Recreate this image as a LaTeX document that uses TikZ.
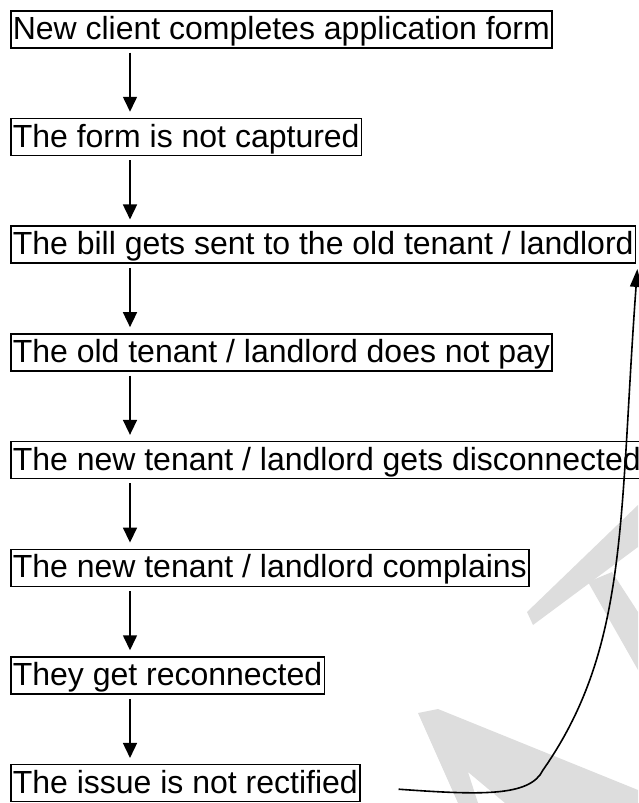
\documentclass[tikz,border=0pt]{standalone}
\usepackage{fontspec}
\setmainfont{Liberation Sans}
\usetikzlibrary{arrows.meta,calc}
\definecolor{wm}{RGB}{221,221,221}
\tikzset{
  stepbox/.style={draw=black, line width=1.5pt, anchor=west, inner xsep=2pt, inner ysep=0.5pt,
    text height=28pt, text depth=8pt, font=\fontsize{32}{38}\selectfont},
  flowarr/.style={line width=1.6pt, -{Triangle[length=15pt,width=14pt]}, shorten <=4pt, shorten >=6pt},
  backarr/.style={line width=1.6pt, -{Triangle[length=18pt,width=12pt]}},
  wmark/.style={fill=wm, draw=none}
}
\begin{document}
\begin{tikzpicture}[x=1pt,y=-1pt]
\useasboundingbox (0,0) rectangle (638,803);
% watermark fragments
\fill[wmark] (638,505) -- (527,612) -- (533,625) -- (638,547) -- cycle;
\fill[wmark] (588,582) -- (612,572) -- (638,612) -- (638,670) -- cycle;
\fill[wmark,even odd rule] (418,713) -- (438,709) -- (638,790) -- (638,803) -- (458,803) -- cycle
  (468,772) -- (478,803) -- (505,803) -- cycle;
% boxes
\node[stepbox] (b1) at (10,29.3) {New client completes application form};
\node[stepbox] (b2) at (10,137.0) {The form is not captured};
\node[stepbox] (b3) at (10,244.7) {The bill gets sent to the old tenant / landlord};
\node[stepbox] (b4) at (10,352.4) {The old tenant / landlord does not pay};
\node[stepbox] (b5) at (10,460.1) {The new tenant / landlord gets disconnected};
\node[stepbox] (b6) at (10,567.8) {The new tenant / landlord complains};
\node[stepbox] (b7) at (10,675.5) {They get reconnected};
\node[stepbox] (b8) at (10,783.2) {The issue is not rectified};
% arrows
\coordinate (ax) at (130,0);
\draw[flowarr] (b1.south -| ax) -- (b2.north -| ax);
\draw[flowarr] (b2.south -| ax) -- (b3.north -| ax);
\draw[flowarr] (b3.south -| ax) -- (b4.north -| ax);
\draw[flowarr] (b4.south -| ax) -- (b5.north -| ax);
\draw[flowarr] (b5.south -| ax) -- (b6.north -| ax);
\draw[flowarr] (b6.south -| ax) -- (b7.north -| ax);
\draw[flowarr] (b7.south -| ax) -- (b8.north -| ax);
% feedback curve
\coordinate (cs) at ($(b8.east)+(38,6)$);
\coordinate (ct) at ($(b3.south east)+(1,5)$);
\draw[backarr] (cs) .. controls (480,795) and (530,797) .. (543,770)
  .. controls (629,647) and (619,519) .. (ct);
\end{tikzpicture}
\end{document}
